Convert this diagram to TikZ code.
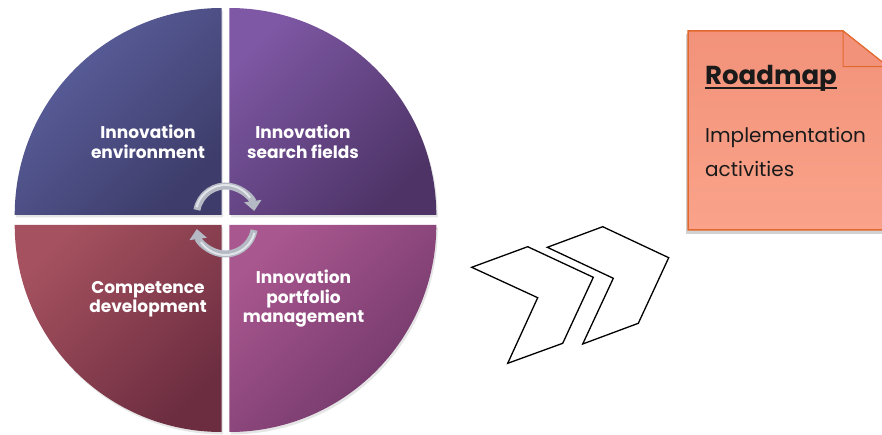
\documentclass[tikz,border=0pt]{standalone}
\usepackage{fontspec}
\setmainfont{Poppins}
\usetikzlibrary{arrows.meta}
\definecolor{tlA}{HTML}{5D62A0}
\definecolor{tlB}{HTML}{3D3C6A}
\definecolor{trA}{HTML}{7E58A4}
\definecolor{trB}{HTML}{4D3366}
\definecolor{blA}{HTML}{A5515F}
\definecolor{blB}{HTML}{6C2D40}
\definecolor{brA}{HTML}{A9578F}
\definecolor{brB}{HTML}{6E3668}
\definecolor{salmon}{HTML}{FAA38A}
\definecolor{salmonTop}{HTML}{F2927A}
\definecolor{boxedge}{HTML}{E2692E}
\definecolor{silver}{HTML}{B4B9C4}
\definecolor{silverhi}{HTML}{E2E5EA}
\definecolor{ink}{HTML}{1A1A1A}
\begin{document}
\begin{tikzpicture}[x=1pt,y=1pt,
  quad/.style={shading angle=45},
  qlabel/.style={text=white, font=\fontsize{17}{19.5}\selectfont\bfseries, align=center, inner sep=0pt},
  cyc/.style={line width=7pt, draw=silver, -{Triangle[width=17pt,length=10pt]}},
  cychi/.style={line width=2pt, draw=silverhi},
  chev/.style={draw=black, line width=1.3pt, line join=miter, fill=white},
  qshadow/.style={fill=black, opacity=0.10},
]
\fill[white] (0,0) rectangle (882,-435);
\useasboundingbox (0,0) rectangle (882,-435);

% shadow of the circle
\begin{scope}[shift={(1.5,-2.5)}]
\path[qshadow] (221.7,-215) -- (14.7,-215) arc[start angle=180,end angle=90,radius=207] -- cycle;
\path[qshadow] (229.3,-215) -- (229.3,-8) arc[start angle=90,end angle=0,radius=207] -- cycle;
\path[qshadow] (221.7,-225) -- (14.7,-225) arc[start angle=180,end angle=270,radius=207] -- cycle;
\path[qshadow] (229.3,-225) -- (436.3,-225) arc[start angle=0,end angle=-90,radius=207] -- cycle;
\end{scope}

% quadrants
\path[top color=tlA, bottom color=tlB, quad] (221.7,-215) -- (14.7,-215) arc[start angle=180,end angle=90,radius=207] -- cycle;
\path[top color=trA, bottom color=trB, quad] (229.3,-215) -- (229.3,-8) arc[start angle=90,end angle=0,radius=207] -- cycle;
\path[top color=blA, bottom color=blB, quad] (221.7,-225) -- (14.7,-225) arc[start angle=180,end angle=270,radius=207] -- cycle;
\path[top color=brA, bottom color=brB, quad] (229.3,-225) -- (436.3,-225) arc[start angle=0,end angle=-90,radius=207] -- cycle;

% labels
\node[qlabel] (env) at (148,-141.9) {Innovation\\environment};
\node[qlabel] (search) at (303,-141.9) {Innovation\\search fields};
\node[qlabel] (comp) at (148,-299.2) {Competence\\development};
\node[qlabel] (port) at (303.5,-298.7) {Innovation\\portfolio\\management};

% cycle arrows
\coordinate (c1) at (225.5,-215);
\coordinate (c2) at (225.5,-225);
\draw[cyc] ([shift={(170:29)}]c1) arc[start angle=170,end angle=8,radius=29];
\draw[cychi] ([shift={(165:30)}]c1) arc[start angle=165,end angle=35,radius=30];
\draw[cyc] ([shift={(-10:29)}]c2) arc[start angle=-10,end angle=-172,radius=29];
\draw[cychi] ([shift={(-15:30)}]c2) arc[start angle=-15,end angle=-145,radius=30];

% chevrons
\draw[chev] (471.7,-267.3) -- (527.7,-246.7) -- (593.3,-277.3) -- (562.7,-343.3) -- (507.7,-363.3) -- (537.7,-297.7) -- cycle;
\draw[chev] (547.3,-247.3) -- (602.7,-226.7) -- (668.7,-257.7) -- (638.3,-323.3) -- (582.7,-344) -- (613.3,-278.3) -- cycle;

% roadmap note
\fill[black!40, opacity=0.45] (686,-34) -- (841,-34) -- (886,-70) -- (886,-234) -- (686,-234) -- cycle;
\path[top color=salmonTop, bottom color=salmon, draw=boxedge, line width=1.5pt, line join=miter]
  (688,-31) -- (843,-31) -- (888,-66.7) -- (888,-230) -- (688,-230) -- cycle;
\draw[boxedge, line width=1pt, fill=salmonTop] (843,-31) -- (843,-66.7) -- (888,-66.7) -- cycle;

\node[text=ink, font=\fontsize{26}{30}\selectfont\bfseries, anchor=base west, inner sep=0pt] (road) at (705,-85) {Roadmap};
\draw[ink, line width=2pt] ([yshift=-3pt]road.base west) -- ([yshift=-3pt]road.base east);
\node[text=ink, font=\fontsize{20}{34}\selectfont, anchor=base west, align=left, inner sep=0pt] (impl) at (705,-177) {Implementation\\activities};
\end{tikzpicture}
\end{document}
